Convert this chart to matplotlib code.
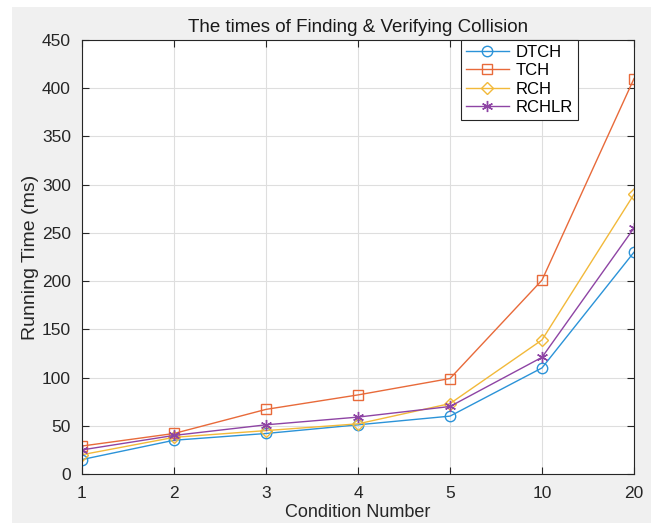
import matplotlib
matplotlib.use("Agg")
import matplotlib.pyplot as plt
from matplotlib.patches import Rectangle
import numpy as np

conditions = ["1", "2", "3", "4", "5", "10", "20"]
dtch = [15, 35, 42, 51, 60, 110, 230]
tch = [29, 42, 67, 82, 99, 201, 410]
rch = [20, 38, 45, 52, 73, 139, 290]
rchlr = [25, 40, 51, 59, 70, 121, 255]

plt.rcParams["font.family"] = ["Liberation Sans", "DejaVu Sans"]

fig = plt.figure(figsize=(6.51, 5.25), dpi=100, facecolor="white")
fig.patches.append(
    Rectangle((12 / 651, 2 / 525), 1, (525 - 9) / 525, transform=fig.transFigure,
              facecolor="#f0f0f0", edgecolor="none", zorder=-10)
)
ax = fig.add_axes([82 / 651, 51 / 525, 552 / 651, 434 / 525])
ax.set_facecolor("white")

x = np.arange(len(conditions))
asterisk = (6, 2, 0)
series = [
    ("DTCH", dtch, "#2b93d8", "o", 7.5),
    ("TCH", tch, "#e86a3a", "s", 6.5),
    ("RCH", rch, "#f2b93a", "D", 6),
    ("RCHLR", rchlr, "#8e44a4", asterisk, 8),
]
for name, vals, clr, mk, ms in series:
    ax.plot(x, vals, color=clr, marker=mk, markersize=ms, markerfacecolor="none",
            markeredgecolor=clr, markeredgewidth=1.0, linewidth=1.0, label=name)

ax.set_xlim(0, len(conditions) - 1)
ax.set_ylim(0, 450)
ax.set_xticks(x)
ax.set_xticklabels(conditions)
ax.set_yticks(np.arange(0, 451, 50))
ax.grid(True, color="#dedede", linewidth=0.8)
ax.set_axisbelow(True)
ax.tick_params(direction="in", top=True, right=True, labelsize=12.5, colors="#262626",
               length=5, width=0.8)
ax.tick_params(axis="x", pad=9)
ax.tick_params(axis="y", pad=8)
for sp in ax.spines.values():
    sp.set_color("#262626")
    sp.set_linewidth(0.8)

ax.set_title("The times of Finding & Verifying Collision", fontsize=13.5, color="#1a1a1a", pad=6)
ax.set_xlabel("Condition Number", fontsize=13, color="#262626", labelpad=2)
ax.set_ylabel("Running Time (ms)", fontsize=14, color="#262626", labelpad=2)

leg = ax.legend(loc="upper right", bbox_to_anchor=(496 / 552, 1.0), fontsize=12,
                fancybox=False, framealpha=1, edgecolor="#262626", borderaxespad=0,
                handlelength=2.6, handletextpad=0.4, borderpad=0.3, labelspacing=0.2)
leg.get_frame().set_linewidth(0.8)

fig.savefig("out.png", dpi=100, facecolor=fig.get_facecolor())
